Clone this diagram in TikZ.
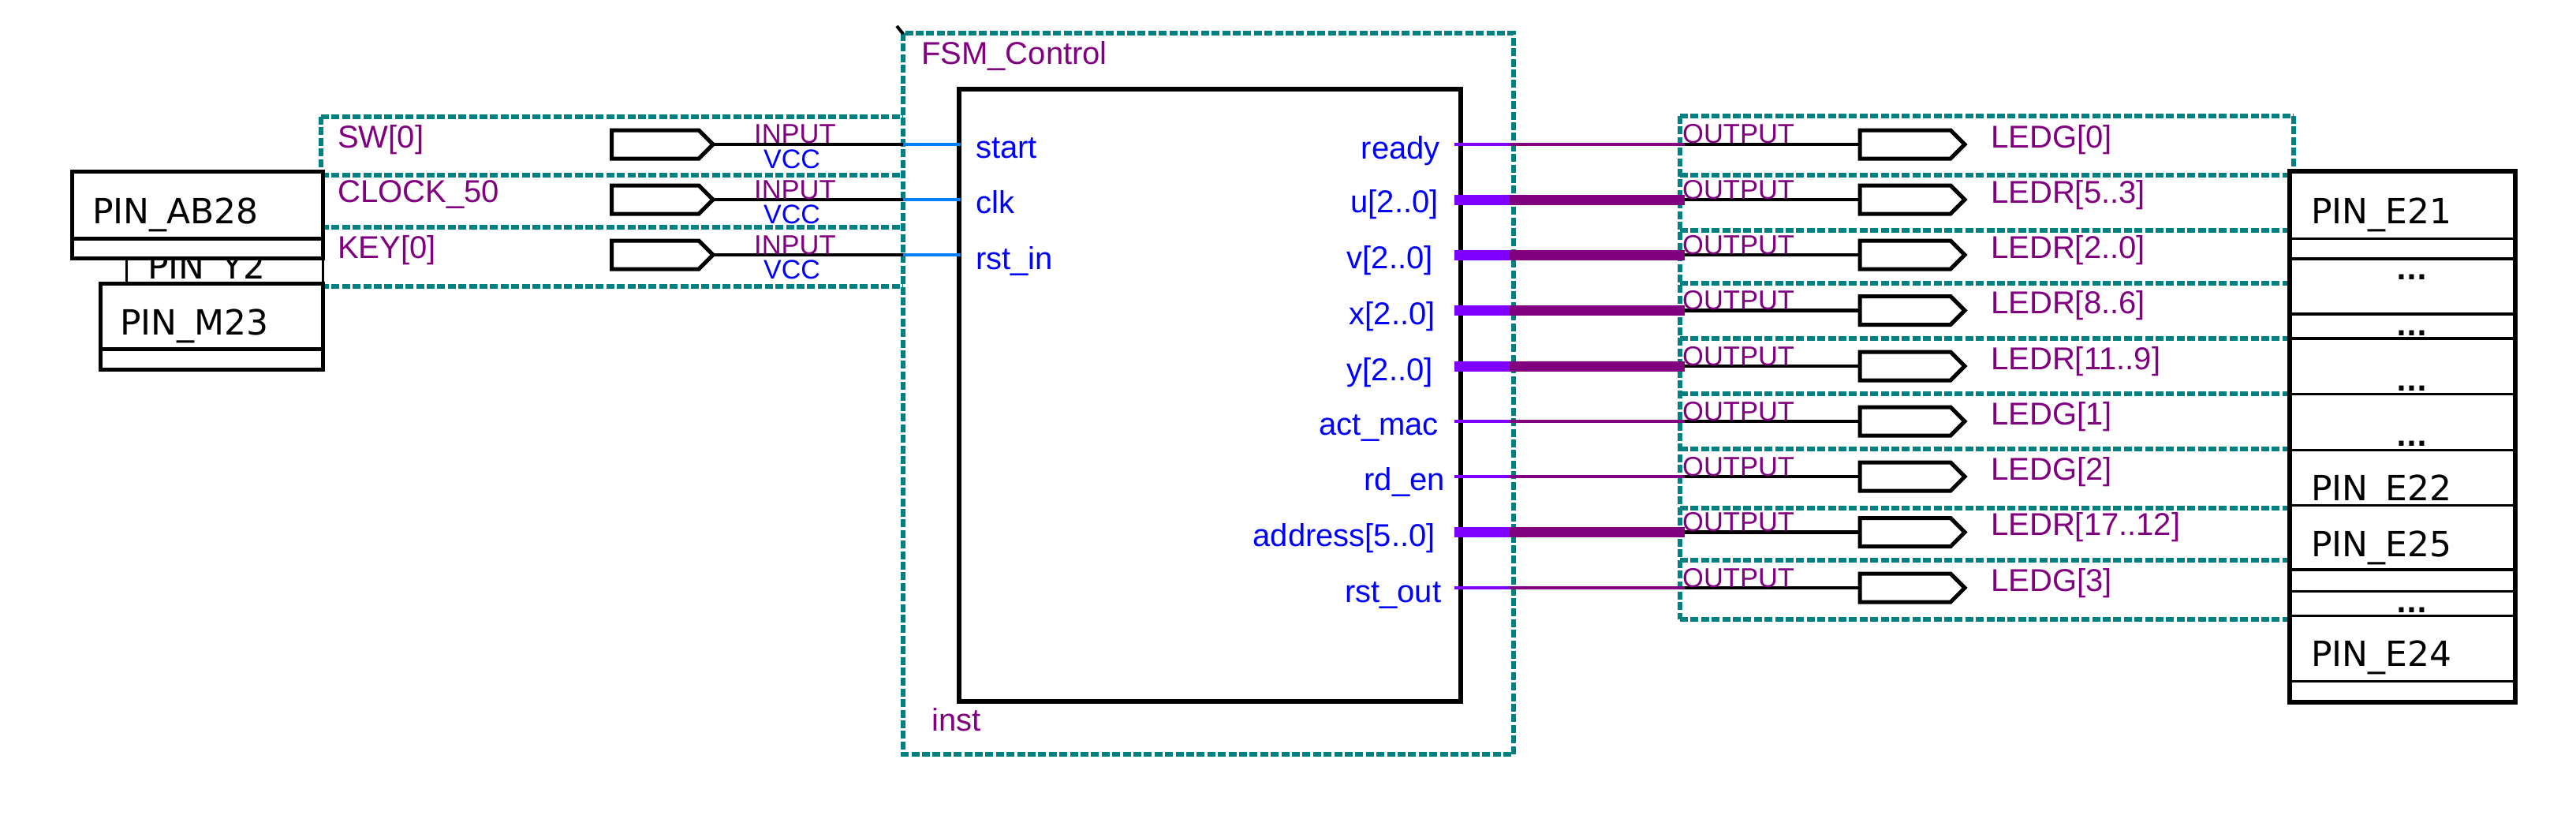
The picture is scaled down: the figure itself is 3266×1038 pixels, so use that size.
\documentclass[tikz,border=0pt]{standalone}
\usepackage{fontspec}
\setmainfont{Liberation Sans}
\newfontfamily\pinfont{DejaVu Sans}
\definecolor{grp}{HTML}{008080}
\definecolor{sig}{HTML}{800080}
\definecolor{portwire}{HTML}{0080FF}
\definecolor{busv}{HTML}{8000FF}
\definecolor{pblue}{HTML}{0000FF}
\tikzset{
  lbl/.style={inner sep=0pt,anchor=base west,xshift=-2pt,text=sig,font=\fontsize{40}{48}\selectfont},
  iolbl/.style={inner sep=0pt,anchor=base west,xshift=-2pt,text=sig,font=\fontsize{34.5}{40}\selectfont},
  vcclbl/.style={inner sep=0pt,anchor=base west,xshift=-2pt,text=pblue,font=\fontsize{34}{40}\selectfont},
  portl/.style={inner sep=0pt,anchor=base west,xshift=-1pt,text=pblue,font=\fontsize{40}{48}\selectfont},
  portr/.style={inner sep=0pt,anchor=base east,xshift=2pt,text=pblue,font=\fontsize{40}{48}\selectfont},
  pintxt/.style={inner sep=0pt,anchor=base west,xshift=-3pt,text=black,font=\pinfont\fontsize{44}{50}\selectfont},
  dots/.style={inner sep=0pt,anchor=base,text=black,font=\pinfont\bfseries\fontsize{34}{40}\selectfont},
  grpline/.style={draw=grp,line width=5.5pt,dash pattern=on 10pt off 3.4pt},
  blk/.style={draw=black,line width=5pt},
  pinbox/.style={draw=black,line width=5pt,fill=white},
  wire/.style={draw=black,line width=4.5pt},
  busw/.style={line width=13pt},
  thinw/.style={line width=4.5pt},
  pinsym/.style={draw=black,line width=5pt,fill=white,line join=miter},
}
\begin{document}
\begin{tikzpicture}[x=1pt,y=-1pt]
\useasboundingbox (0,0) rectangle (3266,1038);
% FSM block and instance frame
\draw[grpline] (1145,42) rectangle (1919,956);
\draw[line width=4pt] (1137,33) -- (1145,43);
\node[lbl] (fsmname) at (1170,82) {FSM\_Control};
\node[lbl] (instname) at (1183,926) {inst};
\draw[blk,line width=5.5pt] (1216,113) rectangle (1852,889);
% input group frames
\draw[grpline] (407,148) -- (1145,148);
\draw[grpline] (407,148) -- (407,222);
\draw[grpline] (407,222) -- (1145,222);
\draw[grpline] (407,288) -- (1145,288);
\draw[grpline] (407,363) -- (1145,363);
% output group frames
\draw[grpline] (2130,147) -- (2130,785);
\draw[grpline] (2908,147) -- (2908,222);
\foreach \yy in {147,222,292,359,429,499,569,644,710,785}
  \draw[grpline] (2130,\yy) -- (2908,\yy);
% input pins and wires
\foreach \id/\yy/\nm/\ly in {a/183/SW[0]/187,b/253/CLOCK\_50/256,c/323/KEY[0]/327}{
  \coordinate (in\id tip) at (904,\yy);
  \coordinate (in\id fsm) at (1145,\yy);
  \coordinate (in\id blk) at (1218,\yy);
  \draw[pinsym] (775.5,\yy-18) -- (886,\yy-18) -- (in\id tip) -- (886,\yy+18) -- (775.5,\yy+18) -- cycle;
  \draw[wire] (in\id tip) -- (in\id fsm);
  \draw[portwire,line width=4.5pt] (in\id fsm) -- (in\id blk);
  \node[lbl] (in\id name) at (430,\ly) {\nm};
  \node[iolbl] (in\id dir) at (958,\yy-1) {INPUT};
  \node[vcclbl] (in\id vcc) at (970,\yy+30) {VCC};
}
\node[portl] (pstart) at (1238,200) {start};
\node[portl] (pclk) at (1238,270) {clk};
\node[portl] (prst) at (1238,341) {rst\_in};
% output pins and wires
\foreach \id/\yy/\pn/\rx/\by/\ln/\th in {
  a/183/ready/1824/201/LEDG[0]/thinw,
  b/253/u[2..0]/1822/269/LEDR[5..3]/busw,
  c/323/v[2..0]/1815/340/LEDR[2..0]/busw,
  d/393.5/x[2..0]/1818/411/LEDR[8..6]/busw,
  e/464/y[2..0]/1815/482/LEDR[11..9]/busw,
  f/534/act\_mac/1822/551/LEDG[1]/thinw,
  g/604/rd\_en/1830/621/LEDG[2]/thinw,
  h/674.5/address[5..0]/1818/692/LEDR[17..12]/busw,
  i/745/rst\_out/1825.5/763/LEDG[3]/thinw}{
  \coordinate (out\id blk) at (1844,\yy);
  \coordinate (out\id fsm) at (1914,\yy);
  \coordinate (out\id grp) at (2136,\yy);
  \coordinate (out\id pin) at (2358,\yy);
  \coordinate (out\id tip) at (2491,\yy);
  \draw[wire] (out\id grp) -- (out\id pin);
  \draw[busv,\th] (out\id blk) -- (out\id fsm);
  \draw[sig,\th] (out\id fsm) -- (out\id grp);
  \draw[pinsym] (out\id pin) ++(0,-18) -- (2473,\yy-18) -- (out\id tip) -- (2473,\yy+18) -- (2358,\yy+18) -- cycle;
  \node[iolbl] (out\id dir) at (2135,\yy-1) {OUTPUT};
  \node[lbl] (out\id name) at (2526,\yy+4) {\ln};
  \node[portr] (out\id port) at (\rx,\by) {\pn};
}
% left location boxes
\draw[pinbox,line width=3pt] (160,320) rectangle (409,400);
\node[pintxt] (py2) at (190,353) {PIN\_Y2};
\draw[pinbox] (91,217) rectangle (409,327);
\draw[blk] (91,302) -- (409,302);
\node[pintxt] (pab) at (120,283) {PIN\_AB28};
\draw[pinbox] (127,359) rectangle (409,468);
\draw[blk] (127,442) -- (409,442);
\node[pintxt] (pm) at (155,424) {PIN\_M23};
% right location boxes
\fill[white] (2903,217) rectangle (3189,890);
\node[pintxt] (pe21) at (2933,283) {PIN\_E21};
\node[dots] (d1) at (3058,354) {...};
\node[dots] (d2) at (3058,425) {...};
\node[dots] (d3) at (3058,495) {...};
\node[dots] (d4) at (3058,565) {...};
\node[pintxt] (pe22) at (2933,634) {PIN\_E22};
\fill[white] (2903,640) rectangle (3189,722);
\node[pintxt] (pe25) at (2933,705) {PIN\_E25};
\node[dots] (d5) at (3058,776) {...};
\node[pintxt] (pe24) at (2933,844) {PIN\_E24};
\foreach \yy/\w in {302/3,328/4.5,398/4.5,429/3.5,499/3,570/3,640/3,722/3.5,749/3,780/3,863/3}
  \draw[black,line width=\w pt] (2903,\yy) -- (3189,\yy);
\draw[draw=black,line width=5.5pt] (2903,217) rectangle (3189,890);
\end{tikzpicture}
\end{document}
